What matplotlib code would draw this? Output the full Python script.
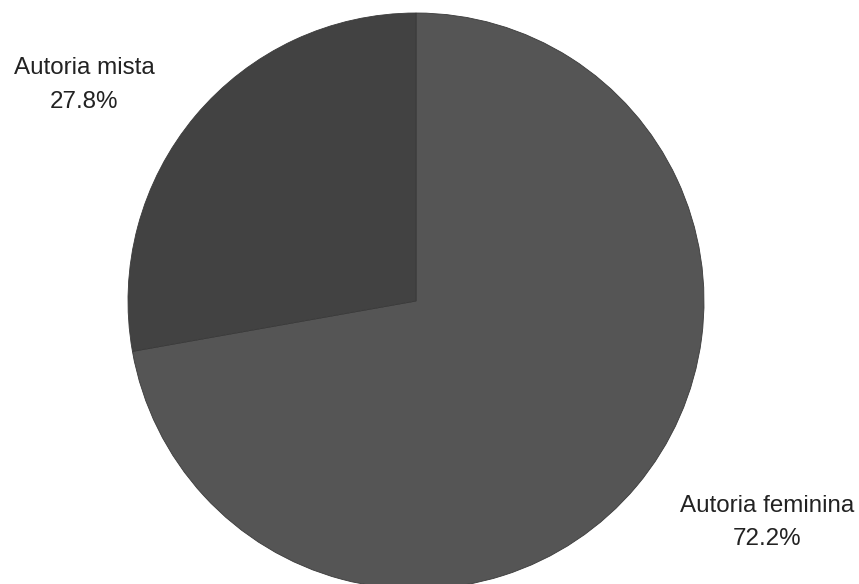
import matplotlib
matplotlib.use("Agg")
import matplotlib.pyplot as plt

categories = ["Autoria feminina", "Autoria mista"]
values = [72.2, 27.8]
colors = ["#555555", "#424242"]

W, H = 859, 584
fig = plt.figure(figsize=(W / 100, H / 100), dpi=100)
ax = fig.add_axes([0, 0, 1, 1])

cx, cy, r = 416, H - 301, 288
ax.pie(values, colors=colors, startangle=90, counterclock=False,
       center=(cx, cy), radius=r,
       wedgeprops=dict(linewidth=0.6, edgecolor="#3a3a3a"))
ax.set_xlim(0, W)
ax.set_ylim(0, H)
ax.set_aspect("equal")
ax.axis("off")

font = dict(family=["Liberation Sans", "DejaVu Sans"], fontsize=17.4,
            color="#222222", ha="center", va="baseline")

# label positions (pixel coords from top)
label_pos = {
    "Autoria feminina": (767, 512, 545),
    "Autoria mista": (84, 74, 108),
}
for cat, val in zip(categories, values):
    x, y1, y2 = label_pos[cat]
    ax.text(x, H - y1, cat, **font)
    ax.text(x, H - y2, f"{val:.1f}%", **font)

fig.savefig("out.png", dpi=100)
